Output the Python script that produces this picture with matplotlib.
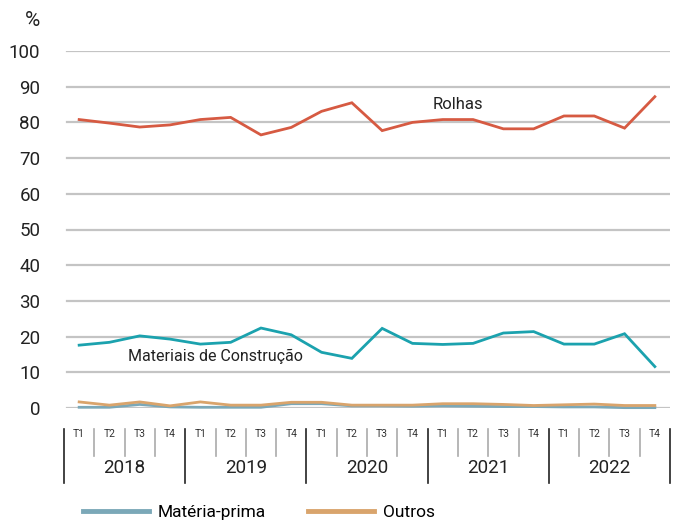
import matplotlib
matplotlib.use("Agg")
import matplotlib.pyplot as plt
import matplotlib.transforms as mtransforms
from matplotlib.lines import Line2D

plt.rcParams['font.family'] = ['Roboto', 'DejaVu Sans']

years = ["2018", "2019", "2020", "2021", "2022"]
quarters = ["T1", "T2", "T3", "T4"]
rolhas = [80.8, 79.8, 78.7, 79.3, 80.8, 81.4, 76.5, 78.6, 83.1, 85.5,
          77.7, 80.0, 80.8, 80.8, 78.2, 78.2, 81.8, 81.8, 78.4, 87.2]
materiais = [17.6, 18.4, 20.2, 19.3, 17.9, 18.4, 22.4, 20.5, 15.6, 13.9,
             22.3, 18.1, 17.8, 18.1, 21.0, 21.4, 17.9, 17.9, 20.8, 11.6]
materia_prima = [0.2, 0.2, 1.0, 0.3, 0.2, 0.2, 0.2, 1.2, 1.2, 0.6,
                 0.6, 0.5, 0.6, 0.5, 0.4, 0.4, 0.3, 0.3, 0.1, 0.1]
outros = [1.7, 0.8, 1.7, 0.6, 1.7, 0.8, 0.8, 1.6, 1.6, 0.8,
          0.8, 0.8, 1.2, 1.2, 1.0, 0.7, 0.9, 1.1, 0.7, 0.7]

c_rolhas = "#D65A42"
c_mat = "#1BA2AE"
c_mp = "#7BA8B8"
c_out = "#D9A46C"
grid_c = "#C4C4C4"

W, H = 677, 520
fig = plt.figure(figsize=(W / 100, H / 100), dpi=100)
ax = fig.add_axes([64 / W, 1 - 408 / H, (670 - 64) / W, (408 - 51) / H])

n = len(rolhas)
x = list(range(n))
ax.set_xlim(-0.5, n - 0.5)
ax.set_ylim(0, 100)
ax.set_yticks(range(0, 101, 10))
for v in range(0, 101, 10):
    ax.axhline(v, color=grid_c, lw=1.6, zorder=0, xmin=0.005, xmax=1.0)

kw = dict(lw=2.0, clip_on=False, solid_joinstyle='miter')
ax.plot(x, materia_prima, color=c_mp, **kw, zorder=3)
ax.plot(x, outros, color=c_out, **kw, zorder=4)
ax.plot(x, materiais, color=c_mat, **kw, zorder=5)
ax.plot(x, rolhas, color=c_rolhas, **kw, zorder=5)

for s in ax.spines.values():
    s.set_visible(False)
ax.tick_params(axis='y', length=0, labelsize=13.5, pad=17, colors="#222222")
ax.tick_params(axis='x', length=0)
ax.set_xticks([])

fig.text(25 / W, 1 - 20 / H, "%", fontsize=15, ha='left', va='center', color="#222222")

ax.text(12.5, 85.0, "Rolhas", fontsize=12, ha='center', va='center', color="#222222")
ax.text(1.6, 14.5, "Materiais de Construção", fontsize=11.5, ha='left', va='center', color="#222222")

trans = mtransforms.blended_transform_factory(ax.transData, fig.transFigure)
y_top = 1 - 429 / H
y_q = 1 - 456 / H
y_y = 1 - 483 / H
for k in range(n + 1):
    xb = k - 0.5
    if k % 4 == 0:
        fig.add_artist(Line2D([xb, xb], [y_top, y_y], transform=trans, color="#222222", lw=1.2))
    else:
        fig.add_artist(Line2D([xb, xb], [y_top, y_q], transform=trans, color="#AAAAAA", lw=1.2))
for i in range(n):
    fig.text(i, 1 - 434 / H, quarters[i % 4], transform=trans, fontsize=7.5,
             ha='center', va='center', color="#333333")
for j, yr in enumerate(years):
    fig.text(j * 4 + 1.5, 1 - 468 / H, yr, transform=trans, fontsize=13.5,
             ha='center', va='center', color="#222222")

handles = [Line2D([], [], color=c_mp, lw=3.5), Line2D([], [], color=c_out, lw=3.5)]
fig.legend(handles, ["Matéria-prima", "Outros"], loc='center',
           bbox_to_anchor=(259 / W, 1 - 512 / H),
           ncol=2, frameon=False, fontsize=12.5, handlelength=3.8, columnspacing=2.4,
           handletextpad=0.5)

fig.savefig("out.png", dpi=100)
